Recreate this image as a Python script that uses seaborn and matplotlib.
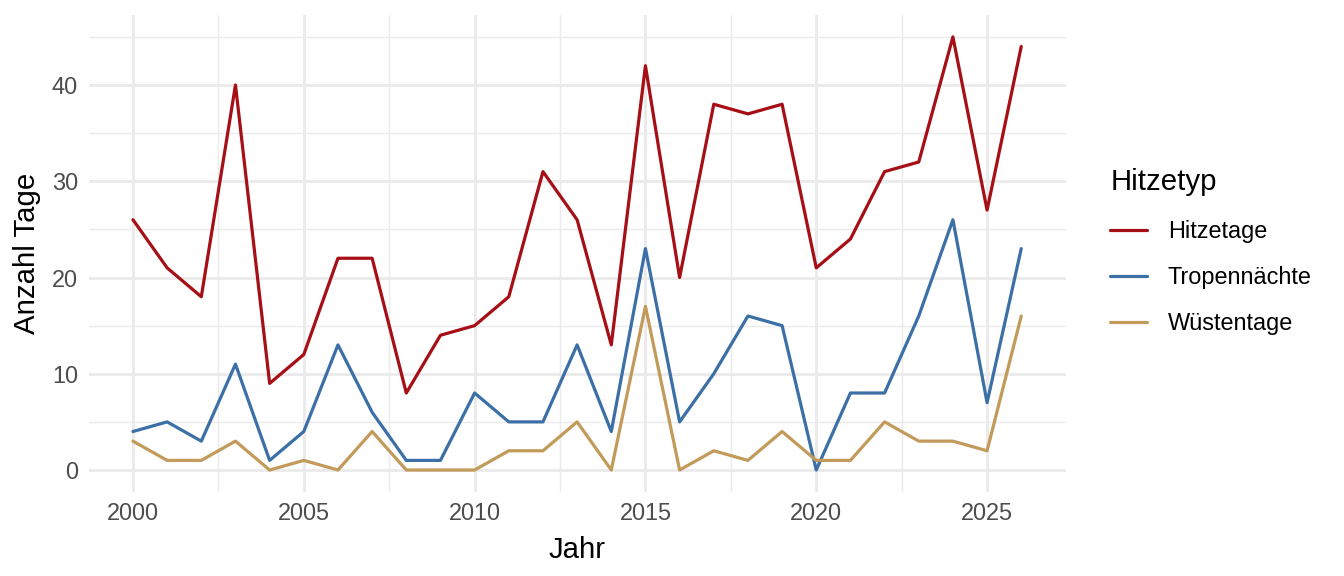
import pandas as pd
import seaborn as sns
import matplotlib.pyplot as plt
from matplotlib.ticker import MultipleLocator

# Daten
jahre = list(range(2000, 2027))
hitzetage = [26, 21, 18, 40, 9, 12, 22, 22, 8, 14, 15, 18, 31, 26, 13, 42, 20, 38, 37, 38, 21, 24, 31, 32, 45, 27, 44]
tropennaechte = [4, 5, 3, 11, 1, 4, 13, 6, 1, 1, 8, 5, 5, 13, 4, 23, 5, 10, 16, 15, 0, 8, 8, 16, 26, 7, 23]
wuestentage = [3, 1, 1, 3, 0, 1, 0, 4, 0, 0, 0, 2, 2, 5, 0, 17, 0, 2, 1, 4, 1, 1, 5, 3, 3, 2, 16]
typen = ['Hitzetage', 'Tropennächte', 'Wüstentage']
farben = ['#A50F15', '#3B6FA6', '#C29A5A']

df = pd.DataFrame({'Jahr': jahre * 3,
                   'Anzahl': hitzetage + tropennaechte + wuestentage,
                   'Hitzetyp': [t for t in typen for _ in jahre]})

sns.set_theme(style='white')
plt.rcParams['font.family'] = ['Liberation Sans', 'DejaVu Sans']

fig = plt.figure(figsize=(7, 3), dpi=192)
ax = fig.add_axes([0.0659, 0.1464, 0.727, 0.8272])

sns.lineplot(data=df, x='Jahr', y='Anzahl', hue='Hitzetyp', hue_order=typen,
             palette=farben, linewidth=1.2, ax=ax)

ax.set_xlim(2000 - 1.3, 2026 + 1.3)
ax.set_ylim(-2.25, 47.25)
ax.xaxis.set_major_locator(MultipleLocator(5))
ax.xaxis.set_minor_locator(MultipleLocator(2.5))
ax.yaxis.set_major_locator(MultipleLocator(10))
ax.yaxis.set_minor_locator(MultipleLocator(5))
ax.grid(which='major', color='#EBEBEB', linewidth=1.1)
ax.grid(which='minor', color='#EBEBEB', linewidth=0.55)
ax.set_axisbelow(True)
for s in ax.spines.values():
    s.set_visible(False)
ax.tick_params(which='both', length=0, labelsize=8.8, labelcolor='#4D4D4D', pad=4)
ax.set_xlabel('Jahr', fontsize=11, labelpad=4, color='black')
ax.set_ylabel('Anzahl Tage', fontsize=11, labelpad=4, color='black')

h, l = ax.get_legend_handles_labels()
ax.legend_.remove()
leg = fig.legend(h, l, title='Hitzetyp', loc='upper left', bbox_to_anchor=(0.826, 0.708),
                 frameon=False, fontsize=8.8, title_fontsize=11, alignment='left',
                 handlelength=1.55, handletextpad=0.9, labelspacing=0.98,
                 borderpad=0, borderaxespad=0)
leg.get_title().set_color('black')
for t in leg.get_texts():
    t.set_color('black')
leg._legend_box.sep = 9

fig.savefig('out.png', dpi=192)
